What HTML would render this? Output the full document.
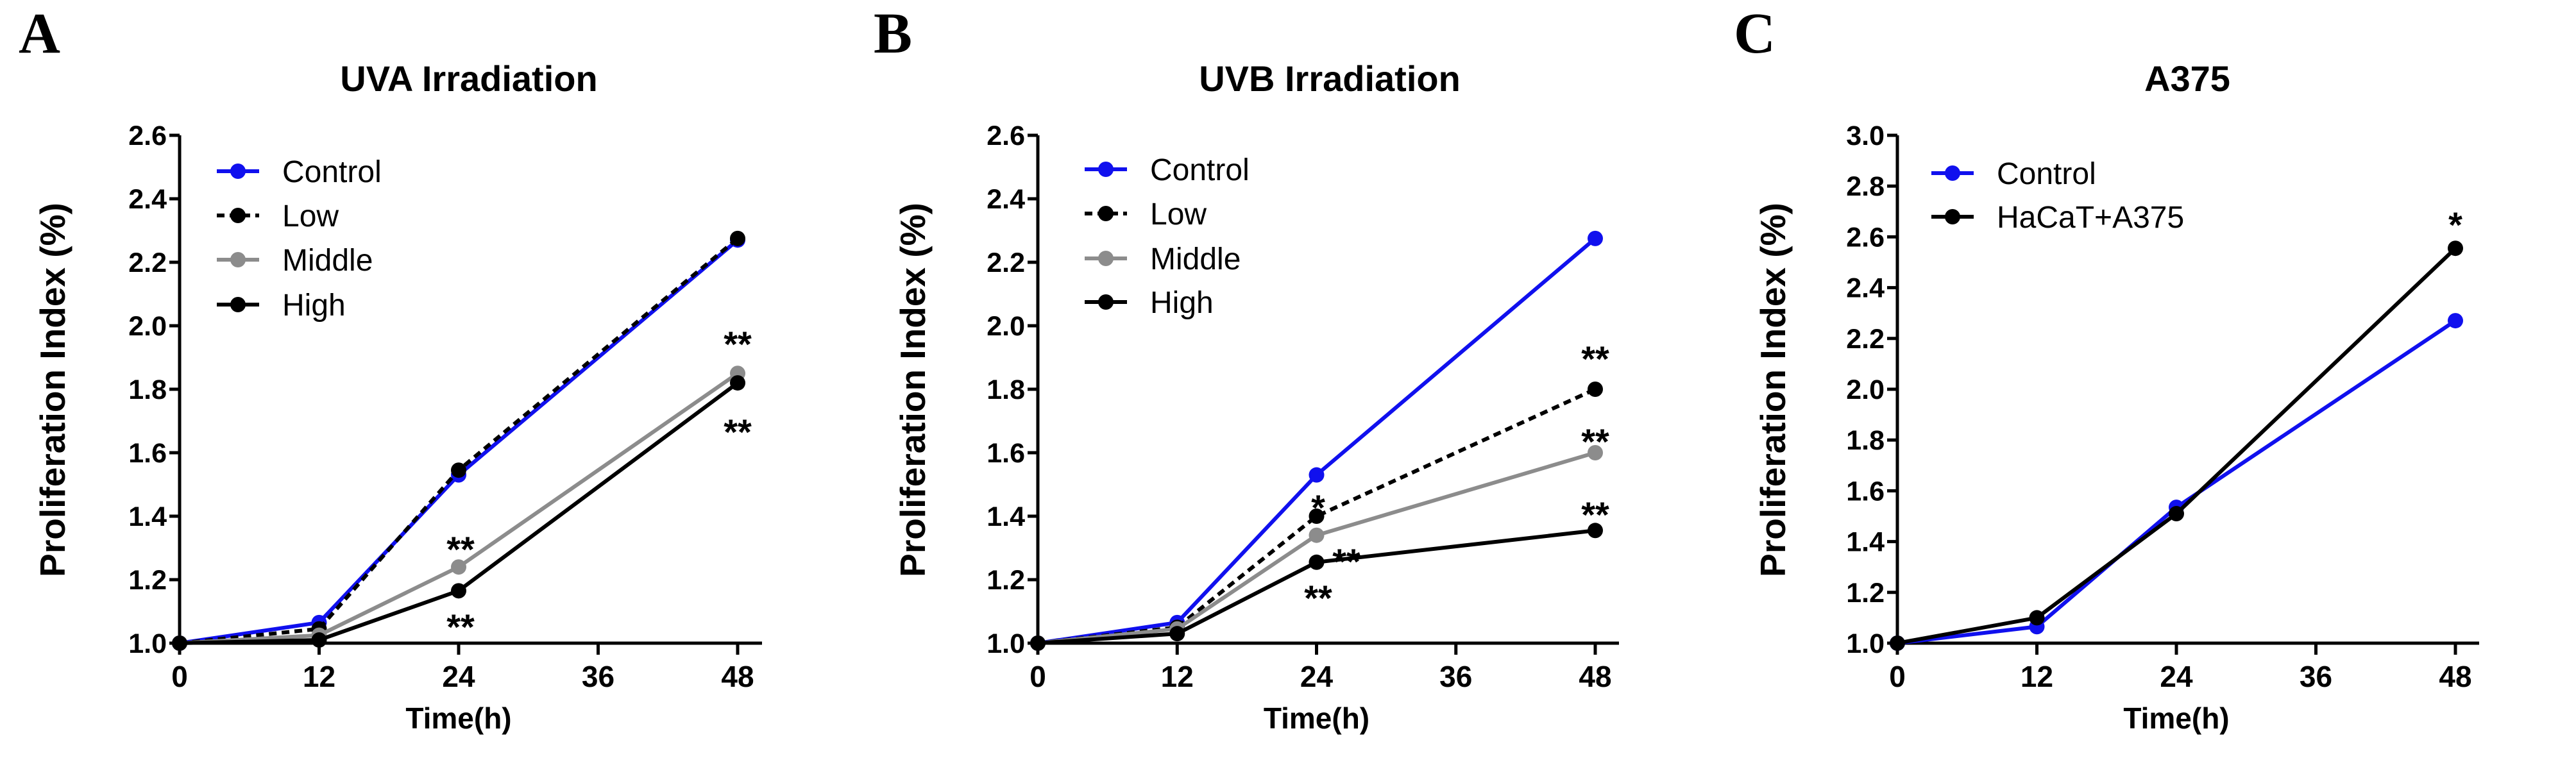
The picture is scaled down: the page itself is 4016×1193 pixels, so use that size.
<!DOCTYPE html>
<html><head><meta charset="utf-8"><style>
html,body{margin:0;padding:0;background:#fff;}
svg{display:block;font-family:"Liberation Sans",Arial,sans-serif;}
</style></head><body>
<svg id="fig" width="4016" height="1193" viewBox="0 0 4016 1193" xmlns="http://www.w3.org/2000/svg"></svg>
<script>
const timesH = [0, 12, 24, 48];
const xTicks = [0, 12, 24, 36, 48];
const yTicksAB = [1.0, 1.2, 1.4, 1.6, 1.8, 2.0, 2.2, 2.4, 2.6];
const yTicksC = [1.0, 1.2, 1.4, 1.6, 1.8, 2.0, 2.2, 2.4, 2.6, 2.8, 3.0];
const uvaControl = [1.0, 1.065, 1.53, 2.27];
const uvaLow = [1.0, 1.045, 1.545, 2.275];
const uvaMiddle = [1.0, 1.025, 1.24, 1.85];
const uvaHigh = [1.0, 1.01, 1.165, 1.82];
const uvbControl = [1.0, 1.065, 1.53, 2.275];
const uvbLow = [1.0, 1.05, 1.40, 1.80];
const uvbMiddle = [1.0, 1.045, 1.34, 1.60];
const uvbHigh = [1.0, 1.03, 1.255, 1.355];
const a375Control = [1.0, 1.065, 1.535, 2.27];
const a375Hacat = [1.0, 1.10, 1.51, 2.555];

const NS = "http://www.w3.org/2000/svg";
const svg = document.getElementById('fig');
function mk(tag, attrs, parent) {
  const e = document.createElementNS(NS, tag);
  for (const k in attrs) e.setAttribute(k, attrs[k]);
  (parent || svg).appendChild(e);
  return e;
}
function txt(s, attrs, parent) { const t = mk('text', attrs, parent); t.textContent = s; return t; }

function panel(cfg) {
  const g = mk('g', {});
  
  
  const x0 = cfg.ax, x48 = cfg.ax48, yb = 1003, yt = 211;
  const ymin = cfg.yTicks[0], ymax = cfg.yTicks[cfg.yTicks.length - 1];
  const X = t => x0 + (x48 - x0) * t / 48;
  const Y = v => yb - (yb - yt) * (v - ymin) / (ymax - ymin);

  const L = txt(cfg.letter, {x: cfg.letterX, y: 82, 'font-family': '"Liberation Serif",serif', 'font-weight': 'bold', 'font-size': 90}, g);
  
  
  const T = txt(cfg.title, {x: cfg.titleX, y: 142, 'text-anchor': 'middle', 'font-weight': 'bold', 'font-size': 56}, g);
  
  

  const ya = mk('line', {x1: x0, y1: yt, x2: x0, y2: yb, stroke: '#000', 'stroke-width': 5}, g);
  
  
  const xa = mk('line', {x1: x0, y1: yb, x2: cfg.axEnd, y2: yb, stroke: '#000', 'stroke-width': 5}, g);
  
  
  cfg.yTicks.forEach(v => {
    mk('line', {x1: x0 - 16, y1: Y(v), x2: x0, y2: Y(v), stroke: '#000', 'stroke-width': 5}, g);
    const t = txt(v.toFixed(1), {x: x0 - 20, y: Y(v) + 15, 'text-anchor': 'end', 'font-weight': 'bold', 'font-size': 43}, g);
    
    
  });
  xTicks.forEach(v => {
    mk('line', {x1: X(v), y1: yb, x2: X(v), y2: yb + 18, stroke: '#000', 'stroke-width': 5}, g);
    const t = txt(String(v), {x: X(v), y: 1071, 'text-anchor': 'middle', 'font-weight': 'bold', 'font-size': 46}, g);
    
    
  });
  const xt = txt('Time(h)', {x: (x0 + x48) / 2, y: 1136, 'text-anchor': 'middle', 'font-weight': 'bold', 'font-size': 46}, g);
  
  
  const yl = txt('Proliferation Index (%)', {x: 0, y: 0, 'text-anchor': 'middle', 'font-weight': 'bold', 'font-size': 55, transform: `translate(${cfg.ylabX + 20},608) rotate(-90)`}, g);
  
  

  cfg.series.forEach(s => {
    const sg = mk('g', {}, g);
    
    
    const pts = s.values.map((v, i) => X(timesH[i]) + ',' + Y(v)).join(' ');
    const pl = mk('polyline', {points: pts, fill: 'none', stroke: s.color, 'stroke-width': 6, 'stroke-dasharray': s.dash || 'none'}, sg);
    
    
    s.values.forEach((v, i) => {
      const c = mk('circle', {cx: X(timesH[i]), cy: Y(v), r: 12, fill: s.color}, sg);
      
      
    });
  });

  cfg.series.forEach((s, i) => {
    const ly = cfg.legY[i];
    const lg = mk('g', {}, g);
    
    
    mk('line', {x1: cfg.legX, y1: ly, x2: cfg.legX + 66, y2: ly, stroke: s.color, 'stroke-width': 6, 'stroke-dasharray': s.dash || 'none'}, lg);
    mk('circle', {cx: cfg.legX + 33, cy: ly, r: 12, fill: s.color}, lg);
    txt(s.label, {x: cfg.legX + 102, y: ly + 17, 'font-size': 48}, lg);
  });

  cfg.stars.forEach(st => {
    const t = txt(st[0], {x: st[1], y: st[2] + 36, 'text-anchor': 'middle', 'font-size': 56, 'font-weight': 'bold'}, g);
    
    
  });
}

panel({name: 'panel-a-uva', letter: 'A', letterX: 29, title: 'UVA Irradiation', titleX: 731,
  ax: 280, ax48: 1150, axEnd: 1188, yTicks: yTicksAB, ylabX: 81,
  legX: 338, legY: [267, 336, 405, 475],
  series: [
    {key: 'control', label: 'Control', values: uvaControl, color: '#1010ee'},
    {key: 'low', label: 'Low', values: uvaLow, color: '#000', dash: '12 8'},
    {key: 'middle', label: 'Middle', values: uvaMiddle, color: '#8c8c8c'},
    {key: 'high', label: 'High', values: uvaHigh, color: '#000'}],
  stars: [['**', 1150, 520], ['**', 1150, 657], ['**', 718, 840], ['**', 718, 961]]});

panel({name: 'panel-b-uvb', letter: 'B', letterX: 1362, title: 'UVB Irradiation', titleX: 2073,
  ax: 1618, ax48: 2487, axEnd: 2524, yTicks: yTicksAB, ylabX: 1422,
  legX: 1691, legY: [264, 333, 403, 471],
  series: [
    {key: 'control', label: 'Control', values: uvbControl, color: '#1010ee'},
    {key: 'low', label: 'Low', values: uvbLow, color: '#000', dash: '12 8'},
    {key: 'middle', label: 'Middle', values: uvbMiddle, color: '#8c8c8c'},
    {key: 'high', label: 'High', values: uvbHigh, color: '#000'}],
  stars: [['**', 2487, 543], ['**', 2487, 672], ['**', 2487, 786], ['*', 2055, 775], ['**', 2099, 859], ['**', 2055, 916]]});

panel({name: 'panel-c-a375', letter: 'C', letterX: 2703, title: 'A375', titleX: 3410,
  ax: 2958, ax48: 3828, axEnd: 3865, yTicks: yTicksC, ylabX: 2763,
  legX: 3011, legY: [270, 338],
  series: [
    {key: 'control', label: 'Control', values: a375Control, color: '#1010ee'},
    {key: 'hacat-a375', label: 'HaCaT+A375', values: a375Hacat, color: '#000'}],
  stars: [['*', 3828, 334]]});
</script>
</body></html>
